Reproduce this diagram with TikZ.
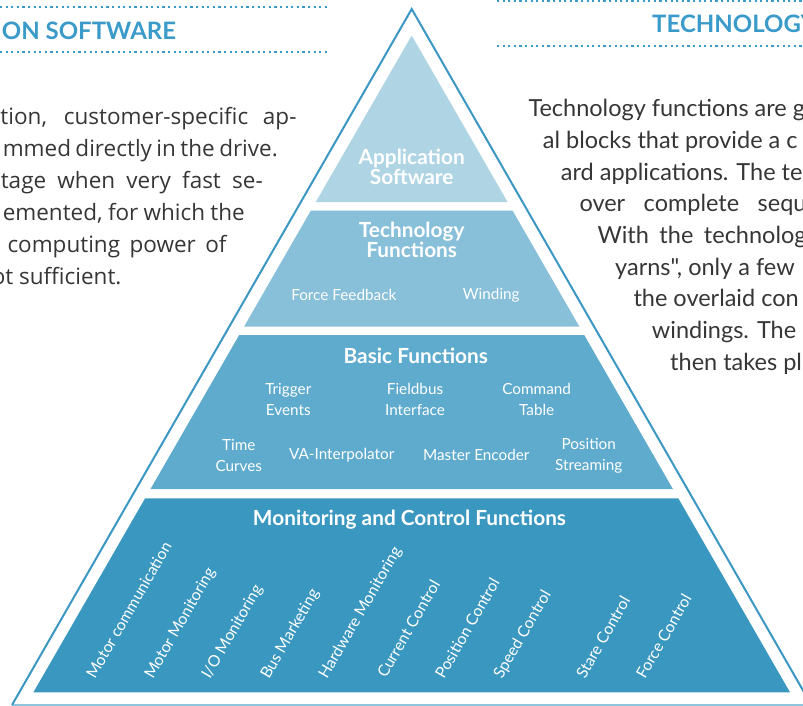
\documentclass[tikz,border=0pt]{standalone}
\usepackage{fontspec}
\setmainfont{Lato}
\newfontfamily\leftfont{Open Sans}
\newfontfamily\rightfont{Lato}[Ligatures=TeXOff]
\definecolor{hdr}{HTML}{3A9AC9}
\definecolor{outl}{HTML}{3A96C3}
\definecolor{lvA}{HTML}{AFD5E5}
\definecolor{lvB}{HTML}{88BFD9}
\definecolor{lvC}{HTML}{5FABCD}
\definecolor{lvD}{HTML}{3A97C0}
\definecolor{baseln}{HTML}{8FC6DD}
\definecolor{bodytxt}{HTML}{363636}
\begin{document}
\begin{tikzpicture}[x=1pt,y=-1pt,
  leftline/.style={inner sep=0pt, anchor=base east, text=bodytxt, font=\leftfont\fontsize{22.5}{27}\selectfont},
  rightline/.style={inner sep=0pt, anchor=base west, text=bodytxt, font=\rightfont\fontsize{23.5}{28}\selectfont},
  header/.style={inner sep=0pt, anchor=base west, text=hdr, font=\bfseries\fontsize{24}{28}\selectfont},
  dotline/.style={hdr, line width=2.2pt, dash pattern=on 2.2pt off 3.4pt},
  lvtitle/.style={inner sep=0pt, text=white, align=center, font=\bfseries\fontsize{20.8}{20}\selectfont},
  item/.style={inner sep=0pt, text=white, align=center, font=\fontsize{15.3}{21}\selectfont},
  rotitem/.style={inner sep=0pt, text=white, anchor=base west, rotate=60, font=\fontsize{15.8}{18}\selectfont},
]
\useasboundingbox (0,0) rectangle (803,706);
\clip (0,0) rectangle (803,706);

% header lines
\draw[dotline] (0,6.7) -- (330,6.7);
\draw[dotline] (0,52.3) -- (330,52.3);
\draw[dotline] (497,0.7) -- (803,0.7);
\draw[dotline] (497,46) -- (803,46);
\node[header] (hL) at (1.7,39.3) {ON SOFTWARE};
\node[header] (hR) at (652,33) {TECHNOLOGY};

% left text
\node[leftline] (l1) at (296.7,125) {\makebox[296pt][s]{tion, customer-specific ap-}};
\node[leftline] (l2) at (278,157) {\makebox[275pt][s]{mmed directly in the drive.}};
\node[leftline] (l3) at (263,188.5) {\makebox[262pt][s]{tage when very fast se-}};
\node[leftline] (l4) at (245,220) {\makebox[242pt][s]{emented, for which the}};
\node[leftline] (l5) at (226.7,252) {\makebox[219pt][s]{computing power of}};
\node[leftline] (l6) at (121.7,284) {ot sufficient.};

% right text
\node[rightline] (r1) at (528.3,116.7) {Technology functions are g};
\node[rightline] (r2) at (542.7,148.4) {al blocks that provide a c};
\node[rightline] (r3) at (560.7,180.1) {ard applications. The te};
\node[rightline] (r4) at (579.3,211.8) {\makebox[227pt][s]{over complete sequ}};
\node[rightline] (r5) at (597.3,243.5) {\makebox[209pt][s]{With the technolog}};
\node[rightline] (r6) at (615,275.2) {yarns", only a few};
\node[rightline] (r7) at (633.3,306.9) {the overlaid con};
\node[rightline] (r8) at (651.7,338.6) {windings. The};
\node[rightline] (r9) at (670,370.3) {then takes pl};

% pyramid outline
\draw[baseln, line width=2pt] (12,705) -- (811,705);
\draw[outl, line width=2pt] (12,705) -- (411.7,9) -- (811.4,705);

% layers
\fill[lvA] (411.7,35.5) -- (507.6,202) -- (315.8,202) -- cycle;
\fill[lvB] (310.8,210.7) -- (512.6,210.7) -- (579.4,326.7) -- (244,326.7) -- cycle;
\fill[lvC] (239.2,335) -- (584.2,335) -- (672.9,489) -- (150.5,489) -- cycle;
\fill[lvD] (145.1,498.3) -- (678.3,498.3) -- (790,692.3) -- (33.4,692.3) -- cycle;

% level titles
\node[lvtitle] (app) at (411.7,166.7) {Application\\Software};
\node[lvtitle] (tech) at (411.7,239.7) {Technology\\Functions};
\node[lvtitle] (basic) at (415.8,356) {Basic Functions};
\node[lvtitle] (mon) at (409.5,520) {Monitoring and Control Functions};

% items
\node[item] (ff) at (343.8,295) {Force Feedback};
\node[item] (wind) at (491.3,295) {Winding};
\node[item] (trig) at (288.3,399.7) {Trigger\\Events};
\node[item] (field) at (415,399.7) {Fieldbus\\Interface};
\node[item] (cmd) at (536.7,399.7) {Command\\Table};
\node[item] (time) at (238.8,455.8) {Time\\Curves};
\node[item] (va) at (341.7,455) {VA-Interpolator};
\node[item] (master) at (476.3,455) {Master Encoder};
\node[item] (pos) at (588.7,455.8) {Position\\Streaming};

% rotated items
\node[rotitem] (m1) at (95,680) {Motor communication};
\node[rotitem] (m2) at (153,680) {Motor Monitoring};
\node[rotitem] (m3) at (210,680) {I/O Monitoring};
\node[rotitem] (m4) at (269,680) {Bus Marketing};
\node[rotitem] (m5) at (327,680) {Hardware Monitoring};
\node[rotitem] (m6) at (386,679) {Current Control};
\node[rotitem] (m7) at (444,680) {Position Control};
\node[rotitem] (m8) at (502,680) {Speed Control};
\node[rotitem] (m9) at (585,680) {Stare Control};
\node[rotitem] (m10) at (645,680) {Force Control};
\end{tikzpicture}
\end{document}
